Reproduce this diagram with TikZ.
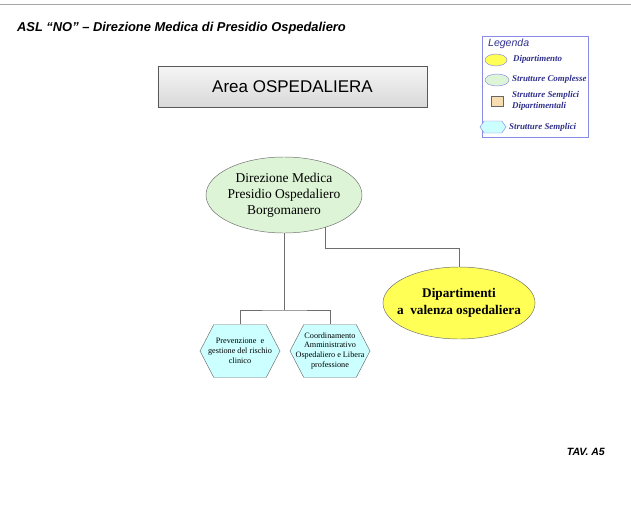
\documentclass[tikz,border=0pt]{standalone}
\usepackage{fontspec}
\setmainfont{Liberation Serif}
\setsansfont{Liberation Sans}
\usepackage{tikz}
\usetikzlibrary{shapes,shapes.symbols}

\definecolor{linegray}{HTML}{6E6E6E}
\definecolor{dirgreen}{HTML}{DDF5D6}
\definecolor{dipyellow}{HTML}{FFFF55}
\definecolor{sscyan}{HTML}{CCFFFF}
\definecolor{ssdbeige}{HTML}{F8DDB0}
\definecolor{legblue}{HTML}{8A8AE8}
\definecolor{legtext}{HTML}{30308C}

\tikzset{
  conn/.style={draw=linegray, line width=0.6pt},
  semplice/.style={signal, signal to=west and east, signal pointer angle=125,
    draw=linegray, fill=sscyan, text=black, align=center, inner xsep=-8pt, inner ysep=0pt,
    minimum width=2.4cm, minimum height=1.59cm, font=\fontsize{7}{8.5}\selectfont},
  legtxt/.style={anchor=west, text=legtext, align=left,
    font=\fontsize{7.6}{9}\selectfont\itshape\bfseries},
}

\begin{document}
\begin{tikzpicture}[x=0.03cm, y=-0.03cm]
    \useasboundingbox (0,0) rectangle (631,527);

    % page header
    \draw[color=gray!70, line width=0.8pt] (0,4) -- (631,4);
    \node[anchor=west, font=\sffamily\bfseries\itshape\fontsize{11}{13}\selectfont] (title) at (13,28)
        {ASL ``NO'' -- Direzione Medica di Presidio Ospedaliero};

    \node[rectangle, draw=black!65, line width=0.6pt, top color=gray!8, bottom color=gray!30,
        minimum width=8.07cm, minimum height=1.23cm,
        font=\sffamily\fontsize{14.5}{16}\selectfont] (area) at (292.5,86.5) {Area OSPEDALIERA};

    % legend
    \draw[legblue, line width=0.8pt] (482,36) rectangle (588,137);
    \node[anchor=west, text=legtext, font=\sffamily\itshape\fontsize{9}{10}\selectfont] (legtitle) at (484,44) {Legenda};
    \node[ellipse, draw=legblue, fill=dipyellow, minimum width=0.66cm, minimum height=0.36cm, inner sep=0pt] (lgdip) at (496,60) {};
    \node[legtxt] (lgdiptxt) at (509,59) {Dipartimento};
    \node[ellipse, draw=legblue, fill=dirgreen, minimum width=0.72cm, minimum height=0.36cm, inner sep=0pt] (lgsc) at (497,80) {};
    \node[legtxt] (lgsctxt) at (508,79) {Strutture Complesse};
    \node[rectangle, draw=black!60, fill=ssdbeige, minimum width=0.36cm, minimum height=0.3cm, inner sep=0pt] (lgssd) at (497,101) {};
    \node[legtxt] (lgssdtxt) at (508,101) {Strutture Semplici\\Dipartimentali};
    \node[signal, signal to=west and east, signal pointer angle=110, draw=legblue, fill=sscyan,
        minimum width=0.78cm, minimum height=0.36cm, inner sep=0pt] (lgss) at (493,127) {};
    \node[legtxt] (lgsstxt) at (505,127) {Strutture Semplici};

    % organigramma
    \node[ellipse, draw=linegray, fill=dirgreen, minimum width=4.68cm, minimum height=2.28cm,
        inner xsep=-2pt, inner ysep=0pt, align=center, font=\fontsize{11.5}{13.8}\selectfont] (dir) at (284,195)
        {Direzione Medica\\Presidio Ospedaliero\\Borgomanero};

    \node[ellipse, draw=linegray, fill=dipyellow, minimum width=4.56cm, minimum height=2.16cm,
        inner xsep=-7pt, inner ysep=0pt, align=center, font=\bfseries\fontsize{11.3}{14}\selectfont] (dip) at (459,303)
        {Dipartimenti\\a~ valenza ospedaliera};

    \node[semplice] (prev) at (240,351) {Prevenzione~ e\\gestione del rischio\\clinico};
    \node[semplice] (coord) at (330,351) {Coordinamento\\Amministrativo\\Ospedaliero e Libera\\professione};

    \coordinate (fork) at (284,310);
    \draw[conn] (dir.south) -- (fork);
    \draw[conn] (prev.north) |- (fork) -| (coord.north);
    \draw[conn] (dir.-38) -- ++(0,21) -| (dip.north);

    \node[anchor=east, font=\sffamily\bfseries\itshape\fontsize{9}{10}\selectfont] (tav) at (609,452) {TAV. A5};
  \end{tikzpicture}
\end{document}
